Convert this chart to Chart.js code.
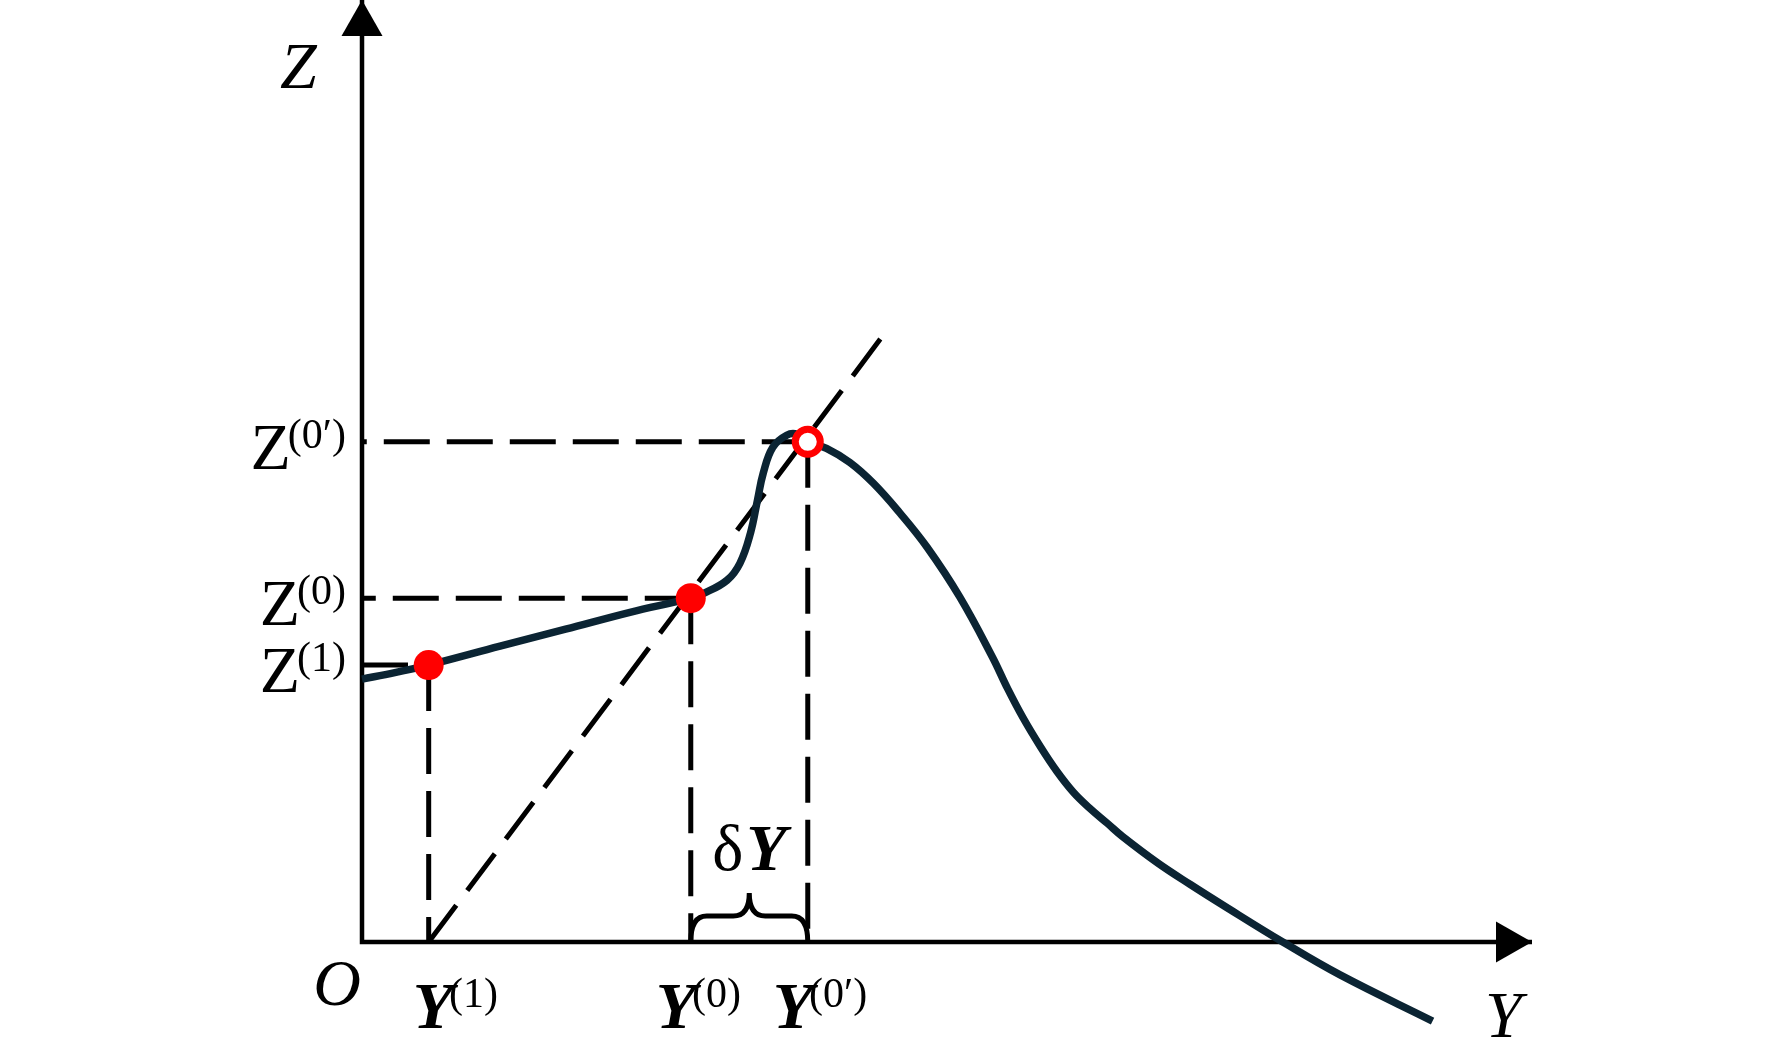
<!DOCTYPE html>
<html>
<head>
<meta charset="utf-8">
<title>Z(Y) iteration sketch</title>
<script src="https://cdn.jsdelivr.net/npm/chart.js@4.4.1/dist/chart.umd.min.js"></script>
<style>
  html, body { margin: 0; padding: 0; background: #fff; }
  .page { width: 1772px; height: 1057px; position: relative; }
</style>
</head>
<body>
<div class="page"><canvas id="zy-chart"></canvas></div>
<script>
// curve Z(Y) (Y across, Z up)
const curveY = [0, 0.28, 0.57, 1.18, 1.74, 2.29, 2.81, 2.92, 3.12, 3.23, 3.32, 3.38, 3.43, 3.51, 3.63, 3.72, 3.81,
    3.97, 4.17, 4.37, 4.60, 4.83, 5.11, 5.39, 5.51, 5.65, 5.80, 5.94, 6.08, 6.22, 6.37, 6.50, 6.80, 7.08, 7.36, 7.87, 8.36, 9.15];
const curveZ = [2.79, 2.86, 2.94, 3.14, 3.32, 3.50, 3.65, 3.70, 3.84, 4.02, 4.34, 4.69, 4.98, 5.25, 5.38, 5.39, 5.31,
    5.24, 5.09, 4.87, 4.55, 4.19, 3.66, 3.02, 2.71, 2.38, 2.07, 1.81, 1.59, 1.42, 1.26, 1.12, 0.84, 0.61, 0.39, 0.00, -0.35, -0.84];

// iterates Y(1), Y(0), Y(0')
const iterNames = ['1', '0', '0\u2032'];
const iterY = [0.57, 2.81, 3.81];
const iterZ = [2.94, 3.65, 5.31];
const iterHollow = [false, false, true];

// dashed chord through Y(1) on the axis
const chordY = [0.57, 4.43];
const chordZ = [0, 6.40];

// both axes run from 0 to here
const axisMax = 10;

const serif = '"Liberation Serif", "Times New Roman", serif';
const fMain = '66px ' + serif;
const fItal = 'italic 66px ' + serif;
const fBoldItal = 'italic bold 66px ' + serif;
const fSup = '42px ' + serif;

function pts(xs, ys) {
    return xs.map((v, i) => ({x: v, y: ys[i]}));
}

function dashed(data, dash) {
    return {
        data: data, showLine: true, borderColor: '#000', borderWidth: 5,
        borderDash: dash || [46, 17], pointRadius: 0, tension: 0, clip: false
    };
}

const datasets = [];

// markers on top
datasets.push({
    data: pts(iterY, iterZ),
    pointRadius: iterHollow.map(h => h ? 12.5 : 15),
    pointBackgroundColor: iterHollow.map(h => h ? '#fff' : '#ff0000'),
    pointBorderColor: '#ff0000',
    pointBorderWidth: iterHollow.map(h => h ? 7 : 0),
    showLine: false, clip: false
});

datasets.push({
    data: pts(curveY, curveZ), showLine: true,
    borderColor: '#0b2433', borderWidth: 7.5, pointRadius: 0,
    tension: 0.4, clip: false
});

iterY.forEach((y, i) => {
    if(i == 0) {
        datasets.push(dashed([{x: 0, y: iterZ[i]}, {x: y, y: iterZ[i]}]));
    } else {
        datasets.push(dashed([{x: y, y: iterZ[i]}, {x: 0, y: iterZ[i]}]));
    }
    datasets.push(dashed([{x: y, y: iterZ[i]}, {x: y, y: 0}]));
});

datasets.push(dashed(pts(chordY, chordZ), [46, 18.3]));

// axes
datasets.push({
    data: [{x: 0, y: axisMax}, {x: 0, y: 0}, {x: axisMax, y: 0}], showLine: true,
    borderColor: '#000', borderWidth: 4.5, pointRadius: 0, tension: 0, clip: false
});

// parts: [text, font, rise, shift]
function drawParts(ctx, parts, x, y, align) {
    let total = 0;
    parts.forEach(p => { ctx.font = p[1]; total += ctx.measureText(p[0]).width + (p[3] || 0); });
    let cx = x;
    if(align == 'right') cx = x - total;
    if(align == 'center') cx = x - total / 2;
    ctx.textAlign = 'left';
    ctx.textBaseline = 'alphabetic';
    parts.forEach(p => {
        ctx.font = p[1];
        cx += (p[3] || 0);
        ctx.fillText(p[0], cx, y - (p[2] || 0));
        cx += ctx.measureText(p[0]).width;
    });
}

const extras = {
    id: 'extras',
    afterDatasetsDraw(chart) {
        const ctx = chart.ctx;
        const sx = chart.scales.x, sy = chart.scales.y;
        const x0 = sx.getPixelForValue(0), y0 = sy.getPixelForValue(0);
        const xEnd = sx.getPixelForValue(axisMax), yEnd = sy.getPixelForValue(axisMax);
        ctx.save();
        ctx.fillStyle = '#000';
        ctx.strokeStyle = '#000';

        // arrow heads
        ctx.beginPath();
        ctx.moveTo(x0, yEnd);
        ctx.lineTo(x0 - 20.5, yEnd + 36);
        ctx.lineTo(x0 + 20.5, yEnd + 36);
        ctx.closePath();
        ctx.fill();
        ctx.beginPath();
        ctx.moveTo(xEnd, y0);
        ctx.lineTo(xEnd - 36, y0 - 20.5);
        ctx.lineTo(xEnd - 36, y0 + 20.5);
        ctx.closePath();
        ctx.fill();

        // brace over Y(0)..Y(0')
        const bl = sx.getPixelForValue(iterY[1]), br = sx.getPixelForValue(iterY[2]);
        const bm = (bl + br) / 2, yh = y0 - 26, yt = y0 - 49, r = 16;
        ctx.lineWidth = 5;
        ctx.beginPath();
        ctx.moveTo(bl, y0);
        ctx.quadraticCurveTo(bl, yh, bl + r, yh);
        ctx.lineTo(bm - r, yh);
        ctx.quadraticCurveTo(bm, yh, bm, yt);
        ctx.quadraticCurveTo(bm, yh, bm + r, yh);
        ctx.lineTo(br - r, yh);
        ctx.quadraticCurveTo(br, yh, br, y0);
        ctx.stroke();

        // labels
        drawParts(ctx, [['Z', fItal]], x0 - 82, yEnd + 88, 'left');
        drawParts(ctx, [['O', fItal]], x0 - 25, y0 + 63, 'center');
        drawParts(ctx, [['Y', fItal]], xEnd - 47, y0 + 95, 'left');
        const yShift = [-16, -35, -35];
        iterNames.forEach((n, i) => {
            drawParts(ctx, [['Z', fMain], ['(' + n + ')', fSup, 21, -3]],
                x0 - 16, sy.getPixelForValue(iterZ[i]) + 27, 'right');
            drawParts(ctx, [['Y', fBoldItal], ['(' + n + ')', fSup, 21, -4]],
                sx.getPixelForValue(iterY[i]) + yShift[i], y0 + 86, 'left');
        });
        drawParts(ctx, [['\u03b4', fMain]], bm - 37, y0 - 72, 'left');
        drawParts(ctx, [['Y', fBoldItal]], bm - 3, y0 - 72, 'left');
        ctx.restore();
    }
};

const zyChart = new Chart(document.getElementById('zy-chart'), {
    type: 'scatter',
    data: { datasets: datasets },
    options: {
        responsive: true,
        maintainAspectRatio: false,
        animation: false,
        events: [],
        layout: { autoPadding: false, padding: { left: 362, right: 240, top: 0, bottom: 2 } },
        scales: {
            x: { type: 'linear', display: false, min: 0, max: axisMax },
            y: { type: 'linear', display: false, min: -1.2, max: axisMax }
        },
        plugins: {
            legend: { display: false },
            tooltip: { enabled: false }
        }
    },
    plugins: [extras]
});
</script>
</body>
</html>
